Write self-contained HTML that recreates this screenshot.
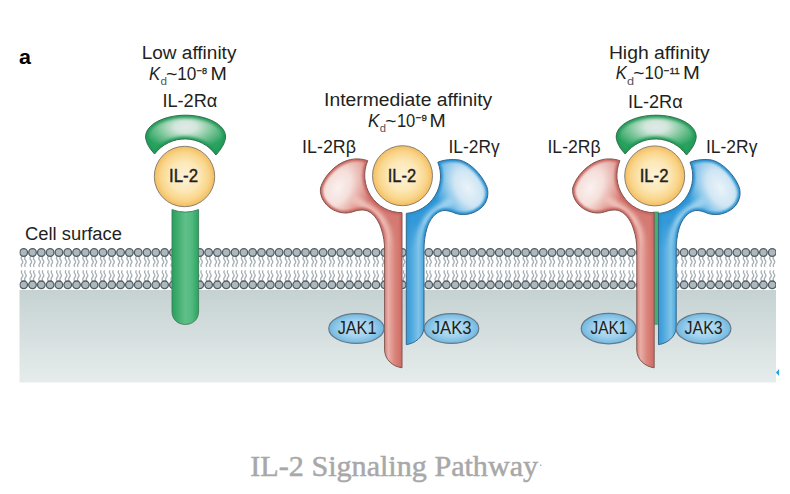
<!DOCTYPE html>
<html><head><meta charset="utf-8">
<style>
html,body{margin:0;padding:0;background:#fff;}
body{width:790px;height:494px;overflow:hidden;position:relative;font-family:"Liberation Sans",sans-serif;}
svg{position:absolute;left:0;top:0;display:block}
</style></head><body>
<svg width="790" height="494" viewBox="0 0 790 494">
<defs>
<linearGradient id="cyto" x1="0" y1="0" x2="0" y2="1">
<stop offset="0" stop-color="#c6d2d2"/><stop offset="1" stop-color="#e6ecec"/>
</linearGradient>
<radialGradient id="yel" cx="0.5" cy="0.5" r="0.5">
<stop offset="0" stop-color="#fdf3d9"/><stop offset="0.5" stop-color="#fce7b5"/><stop offset="0.8" stop-color="#f9d58a"/><stop offset="1" stop-color="#f3bd60"/>
</radialGradient>
<radialGradient id="grn" cx="0.5" cy="0.35" r="0.6">
<stop offset="0" stop-color="#cfe8d6"/><stop offset="0.55" stop-color="#4fb777"/><stop offset="1" stop-color="#1f9a55"/>
</radialGradient>
<linearGradient id="grnstalk" x1="0" y1="0" x2="1" y2="0">
<stop offset="0" stop-color="#27a05c"/><stop offset="0.5" stop-color="#60bf89"/><stop offset="0.75" stop-color="#52b97e"/><stop offset="1" stop-color="#2aa25f"/>
</linearGradient>
<radialGradient id="redh" cx="0.35" cy="0.45" r="0.6">
<stop offset="0" stop-color="#f9e6e2"/><stop offset="0.6" stop-color="#dd8a82"/><stop offset="1" stop-color="#c9625c"/>
</radialGradient>
<radialGradient id="bluh" cx="0.65" cy="0.45" r="0.6">
<stop offset="0" stop-color="#e3f1fa"/><stop offset="0.6" stop-color="#5db1e0"/><stop offset="1" stop-color="#1d8ccf"/>
</radialGradient>
<linearGradient id="redstalk" x1="384" y1="0" x2="402" y2="0" gradientUnits="userSpaceOnUse">
<stop offset="0" stop-color="#d67f77"/><stop offset="0.25" stop-color="#e9aea6"/><stop offset="0.6" stop-color="#da857d"/><stop offset="1" stop-color="#cd6a63"/>
</linearGradient>
<linearGradient id="blustalk" x1="406" y1="0" x2="424.5" y2="0" gradientUnits="userSpaceOnUse">
<stop offset="0" stop-color="#3497d5"/><stop offset="0.3" stop-color="#4fa9de"/><stop offset="0.68" stop-color="#7fc3e9"/><stop offset="0.9" stop-color="#55aee0"/><stop offset="1" stop-color="#3598d5"/>
</linearGradient>
<radialGradient id="jak" cx="0.5" cy="0.5" r="0.55">
<stop offset="0" stop-color="#c1e2f4"/><stop offset="0.5" stop-color="#a2d2ed"/><stop offset="1" stop-color="#66b2df"/>
</radialGradient>

<radialGradient id="caprad" gradientUnits="userSpaceOnUse" cx="0" cy="0" r="44" gradientTransform="translate(185.5,127) scale(1,0.52)">
<stop offset="0" stop-color="#e1e9e8"/><stop offset="0.25" stop-color="#d3e6dc"/><stop offset="0.6" stop-color="#7fc79c"/><stop offset="1" stop-color="#2aa25f"/>
</radialGradient>
<filter id="b12" x="-30%" y="-30%" width="160%" height="160%"><feGaussianBlur stdDeviation="1.3"/></filter>
<filter id="b15" x="-30%" y="-30%" width="160%" height="160%"><feGaussianBlur stdDeviation="1.6"/></filter>
<filter id="b2" x="-30%" y="-30%" width="160%" height="160%"><feGaussianBlur stdDeviation="2.2"/></filter>
<radialGradient id="redrad" gradientUnits="userSpaceOnUse" cx="0" cy="0" r="52" gradientTransform="translate(338,188) rotate(-62) scale(1,0.62)">
<stop offset="0" stop-color="#faf1ef"/><stop offset="0.35" stop-color="#f5dfdb"/><stop offset="0.7" stop-color="#e4a69e"/><stop offset="1" stop-color="#d47a73"/>
</radialGradient>
<radialGradient id="blurad" gradientUnits="userSpaceOnUse" cx="0" cy="0" r="54" gradientTransform="translate(468,188) rotate(62) scale(1,0.62)">
<stop offset="0" stop-color="#eaf3f9"/><stop offset="0.35" stop-color="#d0e6f4"/><stop offset="0.7" stop-color="#74bce6"/><stop offset="1" stop-color="#3399d8"/>
</radialGradient>
<filter id="b5" x="-30%" y="-30%" width="160%" height="160%"><feGaussianBlur stdDeviation="4.5"/></filter>
<filter id="b3" x="-30%" y="-30%" width="160%" height="160%"><feGaussianBlur stdDeviation="3.2"/></filter>
<path id="cap" d="M154.6 154 C149.5 148.5 146 143 145.6 137.1 C145.5 124 165 115.2 185.5 115.2 C206 115.2 225.7 124 225.6 137.1 C225.2 143 221 149.5 215.9 155 A38 38 0 0 0 154.6 154 Z"/>
<clipPath id="capclip"><use href="#cap"/></clipPath>
<g id="capg">
 <g clip-path="url(#capclip)">
  <use href="#cap" fill="url(#caprad)"/>
  <use href="#cap" fill="none" stroke="#1f9a55" stroke-width="5" filter="url(#b15)"/>
 </g>
 <use href="#cap" fill="none" stroke="#356e50" stroke-width="1"/>
</g>
<path id="beta" d="M367.7 160.7 C360 158 352 158.5 345.4 161.1 C335 165 324 176 320.5 188 C319.5 197 325 204.5 331 208.5 C338 213 346 214 352 212 C357 210.3 361 209.5 365 210.2 C372 211.5 378 219 381 228 C383.8 236 384.6 243 384.6 250 V350 C384.9 360 393 366.5 402 367.8 V212.7 A37.3 37.3 0 0 1 367.7 160.7 Z"/>
<clipPath id="betaclip"><use href="#beta"/></clipPath>
<g id="betag">
 <g clip-path="url(#betaclip)">
  <use href="#beta" fill="url(#redrad)"/>
  <path d="M340 188 C352 201 370 205 381 219 C388 230 389.5 243 389.5 262" fill="none" stroke="#efc0b9" stroke-width="7.5" stroke-linecap="round" filter="url(#b2)" style="mix-blend-mode:lighten"/>
  <use href="#beta" fill="none" stroke="#cb645d" stroke-width="4.5" filter="url(#b12)"/>
  <rect x="380" y="215" width="24" height="160" fill="url(#redstalk)" mask="url(#stalkfade)"/>
 </g>
 <use href="#beta" fill="none" stroke="#7f5652" stroke-width="1"/>
</g>
<path id="gamma" d="M437.8 162.2 C444 159.5 452 159 459.6 160 C471 163 482 175 486.8 186.7 C489.5 194 487 203 481 208 C474 214 464 216 456 213.5 C451 211.5 447 210 442.9 210.6 C435 212 429.5 220 427 228 C424.6 236 424 243 424 250 V328 C423.3 337 415 343.5 406.3 344.6 V213.4 A37.3 37.3 0 0 0 437.8 162.2 Z"/>
<clipPath id="gammaclip"><use href="#gamma"/></clipPath>
<g id="gammag">
 <g clip-path="url(#gammaclip)">
  <use href="#gamma" fill="url(#blurad)"/>
  <path d="M467 189 C455 202 438 205 428 219 C421 230 419.5 243 419.5 262" fill="none" stroke="#9dd1ef" stroke-width="8" stroke-linecap="round" filter="url(#b2)" style="mix-blend-mode:lighten"/>
  <use href="#gamma" fill="none" stroke="#2792d3" stroke-width="4.5" filter="url(#b12)"/>
  <rect x="404" y="215" width="24" height="140" fill="url(#blustalk)" mask="url(#stalkfade)"/>
 </g>
 <use href="#gamma" fill="none" stroke="#35678c" stroke-width="1"/>
</g>
<linearGradient id="fadeg" x1="0" y1="0" x2="0" y2="1" gradientUnits="userSpaceOnUse" >
<stop offset="0" stop-color="#000"/><stop offset="1" stop-color="#fff"/>
</linearGradient>
<mask id="stalkfade" maskUnits="userSpaceOnUse" x="370" y="200" width="70" height="180">
<linearGradient id="fg2" x1="0" y1="222" x2="0" y2="250" gradientUnits="userSpaceOnUse"><stop offset="0" stop-color="#000"/><stop offset="1" stop-color="#fff"/></linearGradient>
<rect x="370" y="200" width="70" height="180" fill="url(#fg2)"/>
</mask>
<clipPath id="memclip"><rect x="19.5" y="240" width="756.5" height="150"/></clipPath>
</defs>

<!-- cytoplasm -->
<rect x="19.5" y="290" width="756.5" height="92.5" fill="url(#cyto)"/>

<!-- membrane -->
<g clip-path="url(#memclip)">
<path d="M22.00 256.30 q-1.6 1.85 0 3.7 q1.6 1.85 0 3.7 q-1.3 1.6 0 3.2 M22.00 281.00 q-1.6 -1.85 0 -3.7 q1.6 -1.85 0 -3.7 q-1.3 -1.6 0 -3.2 M25.40 256.30 q-1.6 1.85 0 3.7 q1.6 1.85 0 3.7 q-1.3 1.6 0 3.2 M25.40 281.00 q-1.6 -1.85 0 -3.7 q1.6 -1.85 0 -3.7 q-1.3 -1.6 0 -3.2 M30.81 256.30 q-1.6 1.85 0 3.7 q1.6 1.85 0 3.7 q-1.3 1.6 0 3.2 M30.81 281.00 q-1.6 -1.85 0 -3.7 q1.6 -1.85 0 -3.7 q-1.3 -1.6 0 -3.2 M34.21 256.30 q-1.6 1.85 0 3.7 q1.6 1.85 0 3.7 q-1.3 1.6 0 3.2 M34.21 281.00 q-1.6 -1.85 0 -3.7 q1.6 -1.85 0 -3.7 q-1.3 -1.6 0 -3.2 M39.61 256.30 q-1.6 1.85 0 3.7 q1.6 1.85 0 3.7 q-1.3 1.6 0 3.2 M39.61 281.00 q-1.6 -1.85 0 -3.7 q1.6 -1.85 0 -3.7 q-1.3 -1.6 0 -3.2 M43.01 256.30 q-1.6 1.85 0 3.7 q1.6 1.85 0 3.7 q-1.3 1.6 0 3.2 M43.01 281.00 q-1.6 -1.85 0 -3.7 q1.6 -1.85 0 -3.7 q-1.3 -1.6 0 -3.2 M48.42 256.30 q-1.6 1.85 0 3.7 q1.6 1.85 0 3.7 q-1.3 1.6 0 3.2 M48.42 281.00 q-1.6 -1.85 0 -3.7 q1.6 -1.85 0 -3.7 q-1.3 -1.6 0 -3.2 M51.82 256.30 q-1.6 1.85 0 3.7 q1.6 1.85 0 3.7 q-1.3 1.6 0 3.2 M51.82 281.00 q-1.6 -1.85 0 -3.7 q1.6 -1.85 0 -3.7 q-1.3 -1.6 0 -3.2 M57.22 256.30 q-1.6 1.85 0 3.7 q1.6 1.85 0 3.7 q-1.3 1.6 0 3.2 M57.22 281.00 q-1.6 -1.85 0 -3.7 q1.6 -1.85 0 -3.7 q-1.3 -1.6 0 -3.2 M60.62 256.30 q-1.6 1.85 0 3.7 q1.6 1.85 0 3.7 q-1.3 1.6 0 3.2 M60.62 281.00 q-1.6 -1.85 0 -3.7 q1.6 -1.85 0 -3.7 q-1.3 -1.6 0 -3.2 M66.03 256.30 q-1.6 1.85 0 3.7 q1.6 1.85 0 3.7 q-1.3 1.6 0 3.2 M66.03 281.00 q-1.6 -1.85 0 -3.7 q1.6 -1.85 0 -3.7 q-1.3 -1.6 0 -3.2 M69.43 256.30 q-1.6 1.85 0 3.7 q1.6 1.85 0 3.7 q-1.3 1.6 0 3.2 M69.43 281.00 q-1.6 -1.85 0 -3.7 q1.6 -1.85 0 -3.7 q-1.3 -1.6 0 -3.2 M74.84 256.30 q-1.6 1.85 0 3.7 q1.6 1.85 0 3.7 q-1.3 1.6 0 3.2 M74.84 281.00 q-1.6 -1.85 0 -3.7 q1.6 -1.85 0 -3.7 q-1.3 -1.6 0 -3.2 M78.24 256.30 q-1.6 1.85 0 3.7 q1.6 1.85 0 3.7 q-1.3 1.6 0 3.2 M78.24 281.00 q-1.6 -1.85 0 -3.7 q1.6 -1.85 0 -3.7 q-1.3 -1.6 0 -3.2 M83.64 256.30 q-1.6 1.85 0 3.7 q1.6 1.85 0 3.7 q-1.3 1.6 0 3.2 M83.64 281.00 q-1.6 -1.85 0 -3.7 q1.6 -1.85 0 -3.7 q-1.3 -1.6 0 -3.2 M87.04 256.30 q-1.6 1.85 0 3.7 q1.6 1.85 0 3.7 q-1.3 1.6 0 3.2 M87.04 281.00 q-1.6 -1.85 0 -3.7 q1.6 -1.85 0 -3.7 q-1.3 -1.6 0 -3.2 M92.45 256.30 q-1.6 1.85 0 3.7 q1.6 1.85 0 3.7 q-1.3 1.6 0 3.2 M92.45 281.00 q-1.6 -1.85 0 -3.7 q1.6 -1.85 0 -3.7 q-1.3 -1.6 0 -3.2 M95.85 256.30 q-1.6 1.85 0 3.7 q1.6 1.85 0 3.7 q-1.3 1.6 0 3.2 M95.85 281.00 q-1.6 -1.85 0 -3.7 q1.6 -1.85 0 -3.7 q-1.3 -1.6 0 -3.2 M101.25 256.30 q-1.6 1.85 0 3.7 q1.6 1.85 0 3.7 q-1.3 1.6 0 3.2 M101.25 281.00 q-1.6 -1.85 0 -3.7 q1.6 -1.85 0 -3.7 q-1.3 -1.6 0 -3.2 M104.65 256.30 q-1.6 1.85 0 3.7 q1.6 1.85 0 3.7 q-1.3 1.6 0 3.2 M104.65 281.00 q-1.6 -1.85 0 -3.7 q1.6 -1.85 0 -3.7 q-1.3 -1.6 0 -3.2 M110.06 256.30 q-1.6 1.85 0 3.7 q1.6 1.85 0 3.7 q-1.3 1.6 0 3.2 M110.06 281.00 q-1.6 -1.85 0 -3.7 q1.6 -1.85 0 -3.7 q-1.3 -1.6 0 -3.2 M113.46 256.30 q-1.6 1.85 0 3.7 q1.6 1.85 0 3.7 q-1.3 1.6 0 3.2 M113.46 281.00 q-1.6 -1.85 0 -3.7 q1.6 -1.85 0 -3.7 q-1.3 -1.6 0 -3.2 M118.87 256.30 q-1.6 1.85 0 3.7 q1.6 1.85 0 3.7 q-1.3 1.6 0 3.2 M118.87 281.00 q-1.6 -1.85 0 -3.7 q1.6 -1.85 0 -3.7 q-1.3 -1.6 0 -3.2 M122.27 256.30 q-1.6 1.85 0 3.7 q1.6 1.85 0 3.7 q-1.3 1.6 0 3.2 M122.27 281.00 q-1.6 -1.85 0 -3.7 q1.6 -1.85 0 -3.7 q-1.3 -1.6 0 -3.2 M127.67 256.30 q-1.6 1.85 0 3.7 q1.6 1.85 0 3.7 q-1.3 1.6 0 3.2 M127.67 281.00 q-1.6 -1.85 0 -3.7 q1.6 -1.85 0 -3.7 q-1.3 -1.6 0 -3.2 M131.07 256.30 q-1.6 1.85 0 3.7 q1.6 1.85 0 3.7 q-1.3 1.6 0 3.2 M131.07 281.00 q-1.6 -1.85 0 -3.7 q1.6 -1.85 0 -3.7 q-1.3 -1.6 0 -3.2 M136.48 256.30 q-1.6 1.85 0 3.7 q1.6 1.85 0 3.7 q-1.3 1.6 0 3.2 M136.48 281.00 q-1.6 -1.85 0 -3.7 q1.6 -1.85 0 -3.7 q-1.3 -1.6 0 -3.2 M139.88 256.30 q-1.6 1.85 0 3.7 q1.6 1.85 0 3.7 q-1.3 1.6 0 3.2 M139.88 281.00 q-1.6 -1.85 0 -3.7 q1.6 -1.85 0 -3.7 q-1.3 -1.6 0 -3.2 M145.28 256.30 q-1.6 1.85 0 3.7 q1.6 1.85 0 3.7 q-1.3 1.6 0 3.2 M145.28 281.00 q-1.6 -1.85 0 -3.7 q1.6 -1.85 0 -3.7 q-1.3 -1.6 0 -3.2 M148.68 256.30 q-1.6 1.85 0 3.7 q1.6 1.85 0 3.7 q-1.3 1.6 0 3.2 M148.68 281.00 q-1.6 -1.85 0 -3.7 q1.6 -1.85 0 -3.7 q-1.3 -1.6 0 -3.2 M154.09 256.30 q-1.6 1.85 0 3.7 q1.6 1.85 0 3.7 q-1.3 1.6 0 3.2 M154.09 281.00 q-1.6 -1.85 0 -3.7 q1.6 -1.85 0 -3.7 q-1.3 -1.6 0 -3.2 M157.49 256.30 q-1.6 1.85 0 3.7 q1.6 1.85 0 3.7 q-1.3 1.6 0 3.2 M157.49 281.00 q-1.6 -1.85 0 -3.7 q1.6 -1.85 0 -3.7 q-1.3 -1.6 0 -3.2 M162.90 256.30 q-1.6 1.85 0 3.7 q1.6 1.85 0 3.7 q-1.3 1.6 0 3.2 M162.90 281.00 q-1.6 -1.85 0 -3.7 q1.6 -1.85 0 -3.7 q-1.3 -1.6 0 -3.2 M166.30 256.30 q-1.6 1.85 0 3.7 q1.6 1.85 0 3.7 q-1.3 1.6 0 3.2 M166.30 281.00 q-1.6 -1.85 0 -3.7 q1.6 -1.85 0 -3.7 q-1.3 -1.6 0 -3.2 M171.70 256.30 q-1.6 1.85 0 3.7 q1.6 1.85 0 3.7 q-1.3 1.6 0 3.2 M171.70 281.00 q-1.6 -1.85 0 -3.7 q1.6 -1.85 0 -3.7 q-1.3 -1.6 0 -3.2 M175.10 256.30 q-1.6 1.85 0 3.7 q1.6 1.85 0 3.7 q-1.3 1.6 0 3.2 M175.10 281.00 q-1.6 -1.85 0 -3.7 q1.6 -1.85 0 -3.7 q-1.3 -1.6 0 -3.2 M180.51 256.30 q-1.6 1.85 0 3.7 q1.6 1.85 0 3.7 q-1.3 1.6 0 3.2 M180.51 281.00 q-1.6 -1.85 0 -3.7 q1.6 -1.85 0 -3.7 q-1.3 -1.6 0 -3.2 M183.91 256.30 q-1.6 1.85 0 3.7 q1.6 1.85 0 3.7 q-1.3 1.6 0 3.2 M183.91 281.00 q-1.6 -1.85 0 -3.7 q1.6 -1.85 0 -3.7 q-1.3 -1.6 0 -3.2 M189.31 256.30 q-1.6 1.85 0 3.7 q1.6 1.85 0 3.7 q-1.3 1.6 0 3.2 M189.31 281.00 q-1.6 -1.85 0 -3.7 q1.6 -1.85 0 -3.7 q-1.3 -1.6 0 -3.2 M192.71 256.30 q-1.6 1.85 0 3.7 q1.6 1.85 0 3.7 q-1.3 1.6 0 3.2 M192.71 281.00 q-1.6 -1.85 0 -3.7 q1.6 -1.85 0 -3.7 q-1.3 -1.6 0 -3.2 M198.12 256.30 q-1.6 1.85 0 3.7 q1.6 1.85 0 3.7 q-1.3 1.6 0 3.2 M198.12 281.00 q-1.6 -1.85 0 -3.7 q1.6 -1.85 0 -3.7 q-1.3 -1.6 0 -3.2 M201.52 256.30 q-1.6 1.85 0 3.7 q1.6 1.85 0 3.7 q-1.3 1.6 0 3.2 M201.52 281.00 q-1.6 -1.85 0 -3.7 q1.6 -1.85 0 -3.7 q-1.3 -1.6 0 -3.2 M206.93 256.30 q-1.6 1.85 0 3.7 q1.6 1.85 0 3.7 q-1.3 1.6 0 3.2 M206.93 281.00 q-1.6 -1.85 0 -3.7 q1.6 -1.85 0 -3.7 q-1.3 -1.6 0 -3.2 M210.33 256.30 q-1.6 1.85 0 3.7 q1.6 1.85 0 3.7 q-1.3 1.6 0 3.2 M210.33 281.00 q-1.6 -1.85 0 -3.7 q1.6 -1.85 0 -3.7 q-1.3 -1.6 0 -3.2 M215.73 256.30 q-1.6 1.85 0 3.7 q1.6 1.85 0 3.7 q-1.3 1.6 0 3.2 M215.73 281.00 q-1.6 -1.85 0 -3.7 q1.6 -1.85 0 -3.7 q-1.3 -1.6 0 -3.2 M219.13 256.30 q-1.6 1.85 0 3.7 q1.6 1.85 0 3.7 q-1.3 1.6 0 3.2 M219.13 281.00 q-1.6 -1.85 0 -3.7 q1.6 -1.85 0 -3.7 q-1.3 -1.6 0 -3.2 M224.54 256.30 q-1.6 1.85 0 3.7 q1.6 1.85 0 3.7 q-1.3 1.6 0 3.2 M224.54 281.00 q-1.6 -1.85 0 -3.7 q1.6 -1.85 0 -3.7 q-1.3 -1.6 0 -3.2 M227.94 256.30 q-1.6 1.85 0 3.7 q1.6 1.85 0 3.7 q-1.3 1.6 0 3.2 M227.94 281.00 q-1.6 -1.85 0 -3.7 q1.6 -1.85 0 -3.7 q-1.3 -1.6 0 -3.2 M233.34 256.30 q-1.6 1.85 0 3.7 q1.6 1.85 0 3.7 q-1.3 1.6 0 3.2 M233.34 281.00 q-1.6 -1.85 0 -3.7 q1.6 -1.85 0 -3.7 q-1.3 -1.6 0 -3.2 M236.74 256.30 q-1.6 1.85 0 3.7 q1.6 1.85 0 3.7 q-1.3 1.6 0 3.2 M236.74 281.00 q-1.6 -1.85 0 -3.7 q1.6 -1.85 0 -3.7 q-1.3 -1.6 0 -3.2 M242.15 256.30 q-1.6 1.85 0 3.7 q1.6 1.85 0 3.7 q-1.3 1.6 0 3.2 M242.15 281.00 q-1.6 -1.85 0 -3.7 q1.6 -1.85 0 -3.7 q-1.3 -1.6 0 -3.2 M245.55 256.30 q-1.6 1.85 0 3.7 q1.6 1.85 0 3.7 q-1.3 1.6 0 3.2 M245.55 281.00 q-1.6 -1.85 0 -3.7 q1.6 -1.85 0 -3.7 q-1.3 -1.6 0 -3.2 M250.96 256.30 q-1.6 1.85 0 3.7 q1.6 1.85 0 3.7 q-1.3 1.6 0 3.2 M250.96 281.00 q-1.6 -1.85 0 -3.7 q1.6 -1.85 0 -3.7 q-1.3 -1.6 0 -3.2 M254.36 256.30 q-1.6 1.85 0 3.7 q1.6 1.85 0 3.7 q-1.3 1.6 0 3.2 M254.36 281.00 q-1.6 -1.85 0 -3.7 q1.6 -1.85 0 -3.7 q-1.3 -1.6 0 -3.2 M259.76 256.30 q-1.6 1.85 0 3.7 q1.6 1.85 0 3.7 q-1.3 1.6 0 3.2 M259.76 281.00 q-1.6 -1.85 0 -3.7 q1.6 -1.85 0 -3.7 q-1.3 -1.6 0 -3.2 M263.16 256.30 q-1.6 1.85 0 3.7 q1.6 1.85 0 3.7 q-1.3 1.6 0 3.2 M263.16 281.00 q-1.6 -1.85 0 -3.7 q1.6 -1.85 0 -3.7 q-1.3 -1.6 0 -3.2 M268.57 256.30 q-1.6 1.85 0 3.7 q1.6 1.85 0 3.7 q-1.3 1.6 0 3.2 M268.57 281.00 q-1.6 -1.85 0 -3.7 q1.6 -1.85 0 -3.7 q-1.3 -1.6 0 -3.2 M271.97 256.30 q-1.6 1.85 0 3.7 q1.6 1.85 0 3.7 q-1.3 1.6 0 3.2 M271.97 281.00 q-1.6 -1.85 0 -3.7 q1.6 -1.85 0 -3.7 q-1.3 -1.6 0 -3.2 M277.37 256.30 q-1.6 1.85 0 3.7 q1.6 1.85 0 3.7 q-1.3 1.6 0 3.2 M277.37 281.00 q-1.6 -1.85 0 -3.7 q1.6 -1.85 0 -3.7 q-1.3 -1.6 0 -3.2 M280.77 256.30 q-1.6 1.85 0 3.7 q1.6 1.85 0 3.7 q-1.3 1.6 0 3.2 M280.77 281.00 q-1.6 -1.85 0 -3.7 q1.6 -1.85 0 -3.7 q-1.3 -1.6 0 -3.2 M286.18 256.30 q-1.6 1.85 0 3.7 q1.6 1.85 0 3.7 q-1.3 1.6 0 3.2 M286.18 281.00 q-1.6 -1.85 0 -3.7 q1.6 -1.85 0 -3.7 q-1.3 -1.6 0 -3.2 M289.58 256.30 q-1.6 1.85 0 3.7 q1.6 1.85 0 3.7 q-1.3 1.6 0 3.2 M289.58 281.00 q-1.6 -1.85 0 -3.7 q1.6 -1.85 0 -3.7 q-1.3 -1.6 0 -3.2 M294.99 256.30 q-1.6 1.85 0 3.7 q1.6 1.85 0 3.7 q-1.3 1.6 0 3.2 M294.99 281.00 q-1.6 -1.85 0 -3.7 q1.6 -1.85 0 -3.7 q-1.3 -1.6 0 -3.2 M298.39 256.30 q-1.6 1.85 0 3.7 q1.6 1.85 0 3.7 q-1.3 1.6 0 3.2 M298.39 281.00 q-1.6 -1.85 0 -3.7 q1.6 -1.85 0 -3.7 q-1.3 -1.6 0 -3.2 M303.79 256.30 q-1.6 1.85 0 3.7 q1.6 1.85 0 3.7 q-1.3 1.6 0 3.2 M303.79 281.00 q-1.6 -1.85 0 -3.7 q1.6 -1.85 0 -3.7 q-1.3 -1.6 0 -3.2 M307.19 256.30 q-1.6 1.85 0 3.7 q1.6 1.85 0 3.7 q-1.3 1.6 0 3.2 M307.19 281.00 q-1.6 -1.85 0 -3.7 q1.6 -1.85 0 -3.7 q-1.3 -1.6 0 -3.2 M312.60 256.30 q-1.6 1.85 0 3.7 q1.6 1.85 0 3.7 q-1.3 1.6 0 3.2 M312.60 281.00 q-1.6 -1.85 0 -3.7 q1.6 -1.85 0 -3.7 q-1.3 -1.6 0 -3.2 M316.00 256.30 q-1.6 1.85 0 3.7 q1.6 1.85 0 3.7 q-1.3 1.6 0 3.2 M316.00 281.00 q-1.6 -1.85 0 -3.7 q1.6 -1.85 0 -3.7 q-1.3 -1.6 0 -3.2 M321.40 256.30 q-1.6 1.85 0 3.7 q1.6 1.85 0 3.7 q-1.3 1.6 0 3.2 M321.40 281.00 q-1.6 -1.85 0 -3.7 q1.6 -1.85 0 -3.7 q-1.3 -1.6 0 -3.2 M324.80 256.30 q-1.6 1.85 0 3.7 q1.6 1.85 0 3.7 q-1.3 1.6 0 3.2 M324.80 281.00 q-1.6 -1.85 0 -3.7 q1.6 -1.85 0 -3.7 q-1.3 -1.6 0 -3.2 M330.21 256.30 q-1.6 1.85 0 3.7 q1.6 1.85 0 3.7 q-1.3 1.6 0 3.2 M330.21 281.00 q-1.6 -1.85 0 -3.7 q1.6 -1.85 0 -3.7 q-1.3 -1.6 0 -3.2 M333.61 256.30 q-1.6 1.85 0 3.7 q1.6 1.85 0 3.7 q-1.3 1.6 0 3.2 M333.61 281.00 q-1.6 -1.85 0 -3.7 q1.6 -1.85 0 -3.7 q-1.3 -1.6 0 -3.2 M339.02 256.30 q-1.6 1.85 0 3.7 q1.6 1.85 0 3.7 q-1.3 1.6 0 3.2 M339.02 281.00 q-1.6 -1.85 0 -3.7 q1.6 -1.85 0 -3.7 q-1.3 -1.6 0 -3.2 M342.42 256.30 q-1.6 1.85 0 3.7 q1.6 1.85 0 3.7 q-1.3 1.6 0 3.2 M342.42 281.00 q-1.6 -1.85 0 -3.7 q1.6 -1.85 0 -3.7 q-1.3 -1.6 0 -3.2 M347.82 256.30 q-1.6 1.85 0 3.7 q1.6 1.85 0 3.7 q-1.3 1.6 0 3.2 M347.82 281.00 q-1.6 -1.85 0 -3.7 q1.6 -1.85 0 -3.7 q-1.3 -1.6 0 -3.2 M351.22 256.30 q-1.6 1.85 0 3.7 q1.6 1.85 0 3.7 q-1.3 1.6 0 3.2 M351.22 281.00 q-1.6 -1.85 0 -3.7 q1.6 -1.85 0 -3.7 q-1.3 -1.6 0 -3.2 M356.63 256.30 q-1.6 1.85 0 3.7 q1.6 1.85 0 3.7 q-1.3 1.6 0 3.2 M356.63 281.00 q-1.6 -1.85 0 -3.7 q1.6 -1.85 0 -3.7 q-1.3 -1.6 0 -3.2 M360.03 256.30 q-1.6 1.85 0 3.7 q1.6 1.85 0 3.7 q-1.3 1.6 0 3.2 M360.03 281.00 q-1.6 -1.85 0 -3.7 q1.6 -1.85 0 -3.7 q-1.3 -1.6 0 -3.2 M365.43 256.30 q-1.6 1.85 0 3.7 q1.6 1.85 0 3.7 q-1.3 1.6 0 3.2 M365.43 281.00 q-1.6 -1.85 0 -3.7 q1.6 -1.85 0 -3.7 q-1.3 -1.6 0 -3.2 M368.83 256.30 q-1.6 1.85 0 3.7 q1.6 1.85 0 3.7 q-1.3 1.6 0 3.2 M368.83 281.00 q-1.6 -1.85 0 -3.7 q1.6 -1.85 0 -3.7 q-1.3 -1.6 0 -3.2 M374.24 256.30 q-1.6 1.85 0 3.7 q1.6 1.85 0 3.7 q-1.3 1.6 0 3.2 M374.24 281.00 q-1.6 -1.85 0 -3.7 q1.6 -1.85 0 -3.7 q-1.3 -1.6 0 -3.2 M377.64 256.30 q-1.6 1.85 0 3.7 q1.6 1.85 0 3.7 q-1.3 1.6 0 3.2 M377.64 281.00 q-1.6 -1.85 0 -3.7 q1.6 -1.85 0 -3.7 q-1.3 -1.6 0 -3.2 M383.05 256.30 q-1.6 1.85 0 3.7 q1.6 1.85 0 3.7 q-1.3 1.6 0 3.2 M383.05 281.00 q-1.6 -1.85 0 -3.7 q1.6 -1.85 0 -3.7 q-1.3 -1.6 0 -3.2 M386.45 256.30 q-1.6 1.85 0 3.7 q1.6 1.85 0 3.7 q-1.3 1.6 0 3.2 M386.45 281.00 q-1.6 -1.85 0 -3.7 q1.6 -1.85 0 -3.7 q-1.3 -1.6 0 -3.2 M391.85 256.30 q-1.6 1.85 0 3.7 q1.6 1.85 0 3.7 q-1.3 1.6 0 3.2 M391.85 281.00 q-1.6 -1.85 0 -3.7 q1.6 -1.85 0 -3.7 q-1.3 -1.6 0 -3.2 M395.25 256.30 q-1.6 1.85 0 3.7 q1.6 1.85 0 3.7 q-1.3 1.6 0 3.2 M395.25 281.00 q-1.6 -1.85 0 -3.7 q1.6 -1.85 0 -3.7 q-1.3 -1.6 0 -3.2 M400.66 256.30 q-1.6 1.85 0 3.7 q1.6 1.85 0 3.7 q-1.3 1.6 0 3.2 M400.66 281.00 q-1.6 -1.85 0 -3.7 q1.6 -1.85 0 -3.7 q-1.3 -1.6 0 -3.2 M404.06 256.30 q-1.6 1.85 0 3.7 q1.6 1.85 0 3.7 q-1.3 1.6 0 3.2 M404.06 281.00 q-1.6 -1.85 0 -3.7 q1.6 -1.85 0 -3.7 q-1.3 -1.6 0 -3.2 M409.46 256.30 q-1.6 1.85 0 3.7 q1.6 1.85 0 3.7 q-1.3 1.6 0 3.2 M409.46 281.00 q-1.6 -1.85 0 -3.7 q1.6 -1.85 0 -3.7 q-1.3 -1.6 0 -3.2 M412.86 256.30 q-1.6 1.85 0 3.7 q1.6 1.85 0 3.7 q-1.3 1.6 0 3.2 M412.86 281.00 q-1.6 -1.85 0 -3.7 q1.6 -1.85 0 -3.7 q-1.3 -1.6 0 -3.2 M418.27 256.30 q-1.6 1.85 0 3.7 q1.6 1.85 0 3.7 q-1.3 1.6 0 3.2 M418.27 281.00 q-1.6 -1.85 0 -3.7 q1.6 -1.85 0 -3.7 q-1.3 -1.6 0 -3.2 M421.67 256.30 q-1.6 1.85 0 3.7 q1.6 1.85 0 3.7 q-1.3 1.6 0 3.2 M421.67 281.00 q-1.6 -1.85 0 -3.7 q1.6 -1.85 0 -3.7 q-1.3 -1.6 0 -3.2 M427.08 256.30 q-1.6 1.85 0 3.7 q1.6 1.85 0 3.7 q-1.3 1.6 0 3.2 M427.08 281.00 q-1.6 -1.85 0 -3.7 q1.6 -1.85 0 -3.7 q-1.3 -1.6 0 -3.2 M430.48 256.30 q-1.6 1.85 0 3.7 q1.6 1.85 0 3.7 q-1.3 1.6 0 3.2 M430.48 281.00 q-1.6 -1.85 0 -3.7 q1.6 -1.85 0 -3.7 q-1.3 -1.6 0 -3.2 M435.88 256.30 q-1.6 1.85 0 3.7 q1.6 1.85 0 3.7 q-1.3 1.6 0 3.2 M435.88 281.00 q-1.6 -1.85 0 -3.7 q1.6 -1.85 0 -3.7 q-1.3 -1.6 0 -3.2 M439.28 256.30 q-1.6 1.85 0 3.7 q1.6 1.85 0 3.7 q-1.3 1.6 0 3.2 M439.28 281.00 q-1.6 -1.85 0 -3.7 q1.6 -1.85 0 -3.7 q-1.3 -1.6 0 -3.2 M444.69 256.30 q-1.6 1.85 0 3.7 q1.6 1.85 0 3.7 q-1.3 1.6 0 3.2 M444.69 281.00 q-1.6 -1.85 0 -3.7 q1.6 -1.85 0 -3.7 q-1.3 -1.6 0 -3.2 M448.09 256.30 q-1.6 1.85 0 3.7 q1.6 1.85 0 3.7 q-1.3 1.6 0 3.2 M448.09 281.00 q-1.6 -1.85 0 -3.7 q1.6 -1.85 0 -3.7 q-1.3 -1.6 0 -3.2 M453.49 256.30 q-1.6 1.85 0 3.7 q1.6 1.85 0 3.7 q-1.3 1.6 0 3.2 M453.49 281.00 q-1.6 -1.85 0 -3.7 q1.6 -1.85 0 -3.7 q-1.3 -1.6 0 -3.2 M456.89 256.30 q-1.6 1.85 0 3.7 q1.6 1.85 0 3.7 q-1.3 1.6 0 3.2 M456.89 281.00 q-1.6 -1.85 0 -3.7 q1.6 -1.85 0 -3.7 q-1.3 -1.6 0 -3.2 M462.30 256.30 q-1.6 1.85 0 3.7 q1.6 1.85 0 3.7 q-1.3 1.6 0 3.2 M462.30 281.00 q-1.6 -1.85 0 -3.7 q1.6 -1.85 0 -3.7 q-1.3 -1.6 0 -3.2 M465.70 256.30 q-1.6 1.85 0 3.7 q1.6 1.85 0 3.7 q-1.3 1.6 0 3.2 M465.70 281.00 q-1.6 -1.85 0 -3.7 q1.6 -1.85 0 -3.7 q-1.3 -1.6 0 -3.2 M471.11 256.30 q-1.6 1.85 0 3.7 q1.6 1.85 0 3.7 q-1.3 1.6 0 3.2 M471.11 281.00 q-1.6 -1.85 0 -3.7 q1.6 -1.85 0 -3.7 q-1.3 -1.6 0 -3.2 M474.51 256.30 q-1.6 1.85 0 3.7 q1.6 1.85 0 3.7 q-1.3 1.6 0 3.2 M474.51 281.00 q-1.6 -1.85 0 -3.7 q1.6 -1.85 0 -3.7 q-1.3 -1.6 0 -3.2 M479.91 256.30 q-1.6 1.85 0 3.7 q1.6 1.85 0 3.7 q-1.3 1.6 0 3.2 M479.91 281.00 q-1.6 -1.85 0 -3.7 q1.6 -1.85 0 -3.7 q-1.3 -1.6 0 -3.2 M483.31 256.30 q-1.6 1.85 0 3.7 q1.6 1.85 0 3.7 q-1.3 1.6 0 3.2 M483.31 281.00 q-1.6 -1.85 0 -3.7 q1.6 -1.85 0 -3.7 q-1.3 -1.6 0 -3.2 M488.72 256.30 q-1.6 1.85 0 3.7 q1.6 1.85 0 3.7 q-1.3 1.6 0 3.2 M488.72 281.00 q-1.6 -1.85 0 -3.7 q1.6 -1.85 0 -3.7 q-1.3 -1.6 0 -3.2 M492.12 256.30 q-1.6 1.85 0 3.7 q1.6 1.85 0 3.7 q-1.3 1.6 0 3.2 M492.12 281.00 q-1.6 -1.85 0 -3.7 q1.6 -1.85 0 -3.7 q-1.3 -1.6 0 -3.2 M497.52 256.30 q-1.6 1.85 0 3.7 q1.6 1.85 0 3.7 q-1.3 1.6 0 3.2 M497.52 281.00 q-1.6 -1.85 0 -3.7 q1.6 -1.85 0 -3.7 q-1.3 -1.6 0 -3.2 M500.92 256.30 q-1.6 1.85 0 3.7 q1.6 1.85 0 3.7 q-1.3 1.6 0 3.2 M500.92 281.00 q-1.6 -1.85 0 -3.7 q1.6 -1.85 0 -3.7 q-1.3 -1.6 0 -3.2 M506.33 256.30 q-1.6 1.85 0 3.7 q1.6 1.85 0 3.7 q-1.3 1.6 0 3.2 M506.33 281.00 q-1.6 -1.85 0 -3.7 q1.6 -1.85 0 -3.7 q-1.3 -1.6 0 -3.2 M509.73 256.30 q-1.6 1.85 0 3.7 q1.6 1.85 0 3.7 q-1.3 1.6 0 3.2 M509.73 281.00 q-1.6 -1.85 0 -3.7 q1.6 -1.85 0 -3.7 q-1.3 -1.6 0 -3.2 M515.14 256.30 q-1.6 1.85 0 3.7 q1.6 1.85 0 3.7 q-1.3 1.6 0 3.2 M515.14 281.00 q-1.6 -1.85 0 -3.7 q1.6 -1.85 0 -3.7 q-1.3 -1.6 0 -3.2 M518.54 256.30 q-1.6 1.85 0 3.7 q1.6 1.85 0 3.7 q-1.3 1.6 0 3.2 M518.54 281.00 q-1.6 -1.85 0 -3.7 q1.6 -1.85 0 -3.7 q-1.3 -1.6 0 -3.2 M523.94 256.30 q-1.6 1.85 0 3.7 q1.6 1.85 0 3.7 q-1.3 1.6 0 3.2 M523.94 281.00 q-1.6 -1.85 0 -3.7 q1.6 -1.85 0 -3.7 q-1.3 -1.6 0 -3.2 M527.34 256.30 q-1.6 1.85 0 3.7 q1.6 1.85 0 3.7 q-1.3 1.6 0 3.2 M527.34 281.00 q-1.6 -1.85 0 -3.7 q1.6 -1.85 0 -3.7 q-1.3 -1.6 0 -3.2 M532.75 256.30 q-1.6 1.85 0 3.7 q1.6 1.85 0 3.7 q-1.3 1.6 0 3.2 M532.75 281.00 q-1.6 -1.85 0 -3.7 q1.6 -1.85 0 -3.7 q-1.3 -1.6 0 -3.2 M536.15 256.30 q-1.6 1.85 0 3.7 q1.6 1.85 0 3.7 q-1.3 1.6 0 3.2 M536.15 281.00 q-1.6 -1.85 0 -3.7 q1.6 -1.85 0 -3.7 q-1.3 -1.6 0 -3.2 M541.55 256.30 q-1.6 1.85 0 3.7 q1.6 1.85 0 3.7 q-1.3 1.6 0 3.2 M541.55 281.00 q-1.6 -1.85 0 -3.7 q1.6 -1.85 0 -3.7 q-1.3 -1.6 0 -3.2 M544.95 256.30 q-1.6 1.85 0 3.7 q1.6 1.85 0 3.7 q-1.3 1.6 0 3.2 M544.95 281.00 q-1.6 -1.85 0 -3.7 q1.6 -1.85 0 -3.7 q-1.3 -1.6 0 -3.2 M550.36 256.30 q-1.6 1.85 0 3.7 q1.6 1.85 0 3.7 q-1.3 1.6 0 3.2 M550.36 281.00 q-1.6 -1.85 0 -3.7 q1.6 -1.85 0 -3.7 q-1.3 -1.6 0 -3.2 M553.76 256.30 q-1.6 1.85 0 3.7 q1.6 1.85 0 3.7 q-1.3 1.6 0 3.2 M553.76 281.00 q-1.6 -1.85 0 -3.7 q1.6 -1.85 0 -3.7 q-1.3 -1.6 0 -3.2 M559.17 256.30 q-1.6 1.85 0 3.7 q1.6 1.85 0 3.7 q-1.3 1.6 0 3.2 M559.17 281.00 q-1.6 -1.85 0 -3.7 q1.6 -1.85 0 -3.7 q-1.3 -1.6 0 -3.2 M562.57 256.30 q-1.6 1.85 0 3.7 q1.6 1.85 0 3.7 q-1.3 1.6 0 3.2 M562.57 281.00 q-1.6 -1.85 0 -3.7 q1.6 -1.85 0 -3.7 q-1.3 -1.6 0 -3.2 M567.97 256.30 q-1.6 1.85 0 3.7 q1.6 1.85 0 3.7 q-1.3 1.6 0 3.2 M567.97 281.00 q-1.6 -1.85 0 -3.7 q1.6 -1.85 0 -3.7 q-1.3 -1.6 0 -3.2 M571.37 256.30 q-1.6 1.85 0 3.7 q1.6 1.85 0 3.7 q-1.3 1.6 0 3.2 M571.37 281.00 q-1.6 -1.85 0 -3.7 q1.6 -1.85 0 -3.7 q-1.3 -1.6 0 -3.2 M576.78 256.30 q-1.6 1.85 0 3.7 q1.6 1.85 0 3.7 q-1.3 1.6 0 3.2 M576.78 281.00 q-1.6 -1.85 0 -3.7 q1.6 -1.85 0 -3.7 q-1.3 -1.6 0 -3.2 M580.18 256.30 q-1.6 1.85 0 3.7 q1.6 1.85 0 3.7 q-1.3 1.6 0 3.2 M580.18 281.00 q-1.6 -1.85 0 -3.7 q1.6 -1.85 0 -3.7 q-1.3 -1.6 0 -3.2 M585.58 256.30 q-1.6 1.85 0 3.7 q1.6 1.85 0 3.7 q-1.3 1.6 0 3.2 M585.58 281.00 q-1.6 -1.85 0 -3.7 q1.6 -1.85 0 -3.7 q-1.3 -1.6 0 -3.2 M588.98 256.30 q-1.6 1.85 0 3.7 q1.6 1.85 0 3.7 q-1.3 1.6 0 3.2 M588.98 281.00 q-1.6 -1.85 0 -3.7 q1.6 -1.85 0 -3.7 q-1.3 -1.6 0 -3.2 M594.39 256.30 q-1.6 1.85 0 3.7 q1.6 1.85 0 3.7 q-1.3 1.6 0 3.2 M594.39 281.00 q-1.6 -1.85 0 -3.7 q1.6 -1.85 0 -3.7 q-1.3 -1.6 0 -3.2 M597.79 256.30 q-1.6 1.85 0 3.7 q1.6 1.85 0 3.7 q-1.3 1.6 0 3.2 M597.79 281.00 q-1.6 -1.85 0 -3.7 q1.6 -1.85 0 -3.7 q-1.3 -1.6 0 -3.2 M603.20 256.30 q-1.6 1.85 0 3.7 q1.6 1.85 0 3.7 q-1.3 1.6 0 3.2 M603.20 281.00 q-1.6 -1.85 0 -3.7 q1.6 -1.85 0 -3.7 q-1.3 -1.6 0 -3.2 M606.60 256.30 q-1.6 1.85 0 3.7 q1.6 1.85 0 3.7 q-1.3 1.6 0 3.2 M606.60 281.00 q-1.6 -1.85 0 -3.7 q1.6 -1.85 0 -3.7 q-1.3 -1.6 0 -3.2 M612.00 256.30 q-1.6 1.85 0 3.7 q1.6 1.85 0 3.7 q-1.3 1.6 0 3.2 M612.00 281.00 q-1.6 -1.85 0 -3.7 q1.6 -1.85 0 -3.7 q-1.3 -1.6 0 -3.2 M615.40 256.30 q-1.6 1.85 0 3.7 q1.6 1.85 0 3.7 q-1.3 1.6 0 3.2 M615.40 281.00 q-1.6 -1.85 0 -3.7 q1.6 -1.85 0 -3.7 q-1.3 -1.6 0 -3.2 M620.81 256.30 q-1.6 1.85 0 3.7 q1.6 1.85 0 3.7 q-1.3 1.6 0 3.2 M620.81 281.00 q-1.6 -1.85 0 -3.7 q1.6 -1.85 0 -3.7 q-1.3 -1.6 0 -3.2 M624.21 256.30 q-1.6 1.85 0 3.7 q1.6 1.85 0 3.7 q-1.3 1.6 0 3.2 M624.21 281.00 q-1.6 -1.85 0 -3.7 q1.6 -1.85 0 -3.7 q-1.3 -1.6 0 -3.2 M629.61 256.30 q-1.6 1.85 0 3.7 q1.6 1.85 0 3.7 q-1.3 1.6 0 3.2 M629.61 281.00 q-1.6 -1.85 0 -3.7 q1.6 -1.85 0 -3.7 q-1.3 -1.6 0 -3.2 M633.01 256.30 q-1.6 1.85 0 3.7 q1.6 1.85 0 3.7 q-1.3 1.6 0 3.2 M633.01 281.00 q-1.6 -1.85 0 -3.7 q1.6 -1.85 0 -3.7 q-1.3 -1.6 0 -3.2 M638.42 256.30 q-1.6 1.85 0 3.7 q1.6 1.85 0 3.7 q-1.3 1.6 0 3.2 M638.42 281.00 q-1.6 -1.85 0 -3.7 q1.6 -1.85 0 -3.7 q-1.3 -1.6 0 -3.2 M641.82 256.30 q-1.6 1.85 0 3.7 q1.6 1.85 0 3.7 q-1.3 1.6 0 3.2 M641.82 281.00 q-1.6 -1.85 0 -3.7 q1.6 -1.85 0 -3.7 q-1.3 -1.6 0 -3.2 M647.23 256.30 q-1.6 1.85 0 3.7 q1.6 1.85 0 3.7 q-1.3 1.6 0 3.2 M647.23 281.00 q-1.6 -1.85 0 -3.7 q1.6 -1.85 0 -3.7 q-1.3 -1.6 0 -3.2 M650.63 256.30 q-1.6 1.85 0 3.7 q1.6 1.85 0 3.7 q-1.3 1.6 0 3.2 M650.63 281.00 q-1.6 -1.85 0 -3.7 q1.6 -1.85 0 -3.7 q-1.3 -1.6 0 -3.2 M656.03 256.30 q-1.6 1.85 0 3.7 q1.6 1.85 0 3.7 q-1.3 1.6 0 3.2 M656.03 281.00 q-1.6 -1.85 0 -3.7 q1.6 -1.85 0 -3.7 q-1.3 -1.6 0 -3.2 M659.43 256.30 q-1.6 1.85 0 3.7 q1.6 1.85 0 3.7 q-1.3 1.6 0 3.2 M659.43 281.00 q-1.6 -1.85 0 -3.7 q1.6 -1.85 0 -3.7 q-1.3 -1.6 0 -3.2 M664.84 256.30 q-1.6 1.85 0 3.7 q1.6 1.85 0 3.7 q-1.3 1.6 0 3.2 M664.84 281.00 q-1.6 -1.85 0 -3.7 q1.6 -1.85 0 -3.7 q-1.3 -1.6 0 -3.2 M668.24 256.30 q-1.6 1.85 0 3.7 q1.6 1.85 0 3.7 q-1.3 1.6 0 3.2 M668.24 281.00 q-1.6 -1.85 0 -3.7 q1.6 -1.85 0 -3.7 q-1.3 -1.6 0 -3.2 M673.64 256.30 q-1.6 1.85 0 3.7 q1.6 1.85 0 3.7 q-1.3 1.6 0 3.2 M673.64 281.00 q-1.6 -1.85 0 -3.7 q1.6 -1.85 0 -3.7 q-1.3 -1.6 0 -3.2 M677.04 256.30 q-1.6 1.85 0 3.7 q1.6 1.85 0 3.7 q-1.3 1.6 0 3.2 M677.04 281.00 q-1.6 -1.85 0 -3.7 q1.6 -1.85 0 -3.7 q-1.3 -1.6 0 -3.2 M682.45 256.30 q-1.6 1.85 0 3.7 q1.6 1.85 0 3.7 q-1.3 1.6 0 3.2 M682.45 281.00 q-1.6 -1.85 0 -3.7 q1.6 -1.85 0 -3.7 q-1.3 -1.6 0 -3.2 M685.85 256.30 q-1.6 1.85 0 3.7 q1.6 1.85 0 3.7 q-1.3 1.6 0 3.2 M685.85 281.00 q-1.6 -1.85 0 -3.7 q1.6 -1.85 0 -3.7 q-1.3 -1.6 0 -3.2 M691.26 256.30 q-1.6 1.85 0 3.7 q1.6 1.85 0 3.7 q-1.3 1.6 0 3.2 M691.26 281.00 q-1.6 -1.85 0 -3.7 q1.6 -1.85 0 -3.7 q-1.3 -1.6 0 -3.2 M694.66 256.30 q-1.6 1.85 0 3.7 q1.6 1.85 0 3.7 q-1.3 1.6 0 3.2 M694.66 281.00 q-1.6 -1.85 0 -3.7 q1.6 -1.85 0 -3.7 q-1.3 -1.6 0 -3.2 M700.06 256.30 q-1.6 1.85 0 3.7 q1.6 1.85 0 3.7 q-1.3 1.6 0 3.2 M700.06 281.00 q-1.6 -1.85 0 -3.7 q1.6 -1.85 0 -3.7 q-1.3 -1.6 0 -3.2 M703.46 256.30 q-1.6 1.85 0 3.7 q1.6 1.85 0 3.7 q-1.3 1.6 0 3.2 M703.46 281.00 q-1.6 -1.85 0 -3.7 q1.6 -1.85 0 -3.7 q-1.3 -1.6 0 -3.2 M708.87 256.30 q-1.6 1.85 0 3.7 q1.6 1.85 0 3.7 q-1.3 1.6 0 3.2 M708.87 281.00 q-1.6 -1.85 0 -3.7 q1.6 -1.85 0 -3.7 q-1.3 -1.6 0 -3.2 M712.27 256.30 q-1.6 1.85 0 3.7 q1.6 1.85 0 3.7 q-1.3 1.6 0 3.2 M712.27 281.00 q-1.6 -1.85 0 -3.7 q1.6 -1.85 0 -3.7 q-1.3 -1.6 0 -3.2 M717.67 256.30 q-1.6 1.85 0 3.7 q1.6 1.85 0 3.7 q-1.3 1.6 0 3.2 M717.67 281.00 q-1.6 -1.85 0 -3.7 q1.6 -1.85 0 -3.7 q-1.3 -1.6 0 -3.2 M721.07 256.30 q-1.6 1.85 0 3.7 q1.6 1.85 0 3.7 q-1.3 1.6 0 3.2 M721.07 281.00 q-1.6 -1.85 0 -3.7 q1.6 -1.85 0 -3.7 q-1.3 -1.6 0 -3.2 M726.48 256.30 q-1.6 1.85 0 3.7 q1.6 1.85 0 3.7 q-1.3 1.6 0 3.2 M726.48 281.00 q-1.6 -1.85 0 -3.7 q1.6 -1.85 0 -3.7 q-1.3 -1.6 0 -3.2 M729.88 256.30 q-1.6 1.85 0 3.7 q1.6 1.85 0 3.7 q-1.3 1.6 0 3.2 M729.88 281.00 q-1.6 -1.85 0 -3.7 q1.6 -1.85 0 -3.7 q-1.3 -1.6 0 -3.2 M735.29 256.30 q-1.6 1.85 0 3.7 q1.6 1.85 0 3.7 q-1.3 1.6 0 3.2 M735.29 281.00 q-1.6 -1.85 0 -3.7 q1.6 -1.85 0 -3.7 q-1.3 -1.6 0 -3.2 M738.69 256.30 q-1.6 1.85 0 3.7 q1.6 1.85 0 3.7 q-1.3 1.6 0 3.2 M738.69 281.00 q-1.6 -1.85 0 -3.7 q1.6 -1.85 0 -3.7 q-1.3 -1.6 0 -3.2 M744.09 256.30 q-1.6 1.85 0 3.7 q1.6 1.85 0 3.7 q-1.3 1.6 0 3.2 M744.09 281.00 q-1.6 -1.85 0 -3.7 q1.6 -1.85 0 -3.7 q-1.3 -1.6 0 -3.2 M747.49 256.30 q-1.6 1.85 0 3.7 q1.6 1.85 0 3.7 q-1.3 1.6 0 3.2 M747.49 281.00 q-1.6 -1.85 0 -3.7 q1.6 -1.85 0 -3.7 q-1.3 -1.6 0 -3.2 M752.90 256.30 q-1.6 1.85 0 3.7 q1.6 1.85 0 3.7 q-1.3 1.6 0 3.2 M752.90 281.00 q-1.6 -1.85 0 -3.7 q1.6 -1.85 0 -3.7 q-1.3 -1.6 0 -3.2 M756.30 256.30 q-1.6 1.85 0 3.7 q1.6 1.85 0 3.7 q-1.3 1.6 0 3.2 M756.30 281.00 q-1.6 -1.85 0 -3.7 q1.6 -1.85 0 -3.7 q-1.3 -1.6 0 -3.2 M761.70 256.30 q-1.6 1.85 0 3.7 q1.6 1.85 0 3.7 q-1.3 1.6 0 3.2 M761.70 281.00 q-1.6 -1.85 0 -3.7 q1.6 -1.85 0 -3.7 q-1.3 -1.6 0 -3.2 M765.10 256.30 q-1.6 1.85 0 3.7 q1.6 1.85 0 3.7 q-1.3 1.6 0 3.2 M765.10 281.00 q-1.6 -1.85 0 -3.7 q1.6 -1.85 0 -3.7 q-1.3 -1.6 0 -3.2 M770.51 256.30 q-1.6 1.85 0 3.7 q1.6 1.85 0 3.7 q-1.3 1.6 0 3.2 M770.51 281.00 q-1.6 -1.85 0 -3.7 q1.6 -1.85 0 -3.7 q-1.3 -1.6 0 -3.2 M773.91 256.30 q-1.6 1.85 0 3.7 q1.6 1.85 0 3.7 q-1.3 1.6 0 3.2 M773.91 281.00 q-1.6 -1.85 0 -3.7 q1.6 -1.85 0 -3.7 q-1.3 -1.6 0 -3.2" fill="none" stroke="#a6afb4" stroke-width="1.3"/>
<g fill="#adb9bf" stroke="#525d63" stroke-width="1.3">
<circle cx="23.70" cy="252.5" r="3.8"/>
<circle cx="23.70" cy="284.8" r="3.8"/>
<circle cx="32.51" cy="252.5" r="3.8"/>
<circle cx="32.51" cy="284.8" r="3.8"/>
<circle cx="41.31" cy="252.5" r="3.8"/>
<circle cx="41.31" cy="284.8" r="3.8"/>
<circle cx="50.12" cy="252.5" r="3.8"/>
<circle cx="50.12" cy="284.8" r="3.8"/>
<circle cx="58.92" cy="252.5" r="3.8"/>
<circle cx="58.92" cy="284.8" r="3.8"/>
<circle cx="67.73" cy="252.5" r="3.8"/>
<circle cx="67.73" cy="284.8" r="3.8"/>
<circle cx="76.54" cy="252.5" r="3.8"/>
<circle cx="76.54" cy="284.8" r="3.8"/>
<circle cx="85.34" cy="252.5" r="3.8"/>
<circle cx="85.34" cy="284.8" r="3.8"/>
<circle cx="94.15" cy="252.5" r="3.8"/>
<circle cx="94.15" cy="284.8" r="3.8"/>
<circle cx="102.95" cy="252.5" r="3.8"/>
<circle cx="102.95" cy="284.8" r="3.8"/>
<circle cx="111.76" cy="252.5" r="3.8"/>
<circle cx="111.76" cy="284.8" r="3.8"/>
<circle cx="120.57" cy="252.5" r="3.8"/>
<circle cx="120.57" cy="284.8" r="3.8"/>
<circle cx="129.37" cy="252.5" r="3.8"/>
<circle cx="129.37" cy="284.8" r="3.8"/>
<circle cx="138.18" cy="252.5" r="3.8"/>
<circle cx="138.18" cy="284.8" r="3.8"/>
<circle cx="146.98" cy="252.5" r="3.8"/>
<circle cx="146.98" cy="284.8" r="3.8"/>
<circle cx="155.79" cy="252.5" r="3.8"/>
<circle cx="155.79" cy="284.8" r="3.8"/>
<circle cx="164.60" cy="252.5" r="3.8"/>
<circle cx="164.60" cy="284.8" r="3.8"/>
<circle cx="173.40" cy="252.5" r="3.8"/>
<circle cx="173.40" cy="284.8" r="3.8"/>
<circle cx="182.21" cy="252.5" r="3.8"/>
<circle cx="182.21" cy="284.8" r="3.8"/>
<circle cx="191.01" cy="252.5" r="3.8"/>
<circle cx="191.01" cy="284.8" r="3.8"/>
<circle cx="199.82" cy="252.5" r="3.8"/>
<circle cx="199.82" cy="284.8" r="3.8"/>
<circle cx="208.63" cy="252.5" r="3.8"/>
<circle cx="208.63" cy="284.8" r="3.8"/>
<circle cx="217.43" cy="252.5" r="3.8"/>
<circle cx="217.43" cy="284.8" r="3.8"/>
<circle cx="226.24" cy="252.5" r="3.8"/>
<circle cx="226.24" cy="284.8" r="3.8"/>
<circle cx="235.04" cy="252.5" r="3.8"/>
<circle cx="235.04" cy="284.8" r="3.8"/>
<circle cx="243.85" cy="252.5" r="3.8"/>
<circle cx="243.85" cy="284.8" r="3.8"/>
<circle cx="252.66" cy="252.5" r="3.8"/>
<circle cx="252.66" cy="284.8" r="3.8"/>
<circle cx="261.46" cy="252.5" r="3.8"/>
<circle cx="261.46" cy="284.8" r="3.8"/>
<circle cx="270.27" cy="252.5" r="3.8"/>
<circle cx="270.27" cy="284.8" r="3.8"/>
<circle cx="279.07" cy="252.5" r="3.8"/>
<circle cx="279.07" cy="284.8" r="3.8"/>
<circle cx="287.88" cy="252.5" r="3.8"/>
<circle cx="287.88" cy="284.8" r="3.8"/>
<circle cx="296.69" cy="252.5" r="3.8"/>
<circle cx="296.69" cy="284.8" r="3.8"/>
<circle cx="305.49" cy="252.5" r="3.8"/>
<circle cx="305.49" cy="284.8" r="3.8"/>
<circle cx="314.30" cy="252.5" r="3.8"/>
<circle cx="314.30" cy="284.8" r="3.8"/>
<circle cx="323.10" cy="252.5" r="3.8"/>
<circle cx="323.10" cy="284.8" r="3.8"/>
<circle cx="331.91" cy="252.5" r="3.8"/>
<circle cx="331.91" cy="284.8" r="3.8"/>
<circle cx="340.72" cy="252.5" r="3.8"/>
<circle cx="340.72" cy="284.8" r="3.8"/>
<circle cx="349.52" cy="252.5" r="3.8"/>
<circle cx="349.52" cy="284.8" r="3.8"/>
<circle cx="358.33" cy="252.5" r="3.8"/>
<circle cx="358.33" cy="284.8" r="3.8"/>
<circle cx="367.13" cy="252.5" r="3.8"/>
<circle cx="367.13" cy="284.8" r="3.8"/>
<circle cx="375.94" cy="252.5" r="3.8"/>
<circle cx="375.94" cy="284.8" r="3.8"/>
<circle cx="384.75" cy="252.5" r="3.8"/>
<circle cx="384.75" cy="284.8" r="3.8"/>
<circle cx="393.55" cy="252.5" r="3.8"/>
<circle cx="393.55" cy="284.8" r="3.8"/>
<circle cx="402.36" cy="252.5" r="3.8"/>
<circle cx="402.36" cy="284.8" r="3.8"/>
<circle cx="411.16" cy="252.5" r="3.8"/>
<circle cx="411.16" cy="284.8" r="3.8"/>
<circle cx="419.97" cy="252.5" r="3.8"/>
<circle cx="419.97" cy="284.8" r="3.8"/>
<circle cx="428.78" cy="252.5" r="3.8"/>
<circle cx="428.78" cy="284.8" r="3.8"/>
<circle cx="437.58" cy="252.5" r="3.8"/>
<circle cx="437.58" cy="284.8" r="3.8"/>
<circle cx="446.39" cy="252.5" r="3.8"/>
<circle cx="446.39" cy="284.8" r="3.8"/>
<circle cx="455.19" cy="252.5" r="3.8"/>
<circle cx="455.19" cy="284.8" r="3.8"/>
<circle cx="464.00" cy="252.5" r="3.8"/>
<circle cx="464.00" cy="284.8" r="3.8"/>
<circle cx="472.81" cy="252.5" r="3.8"/>
<circle cx="472.81" cy="284.8" r="3.8"/>
<circle cx="481.61" cy="252.5" r="3.8"/>
<circle cx="481.61" cy="284.8" r="3.8"/>
<circle cx="490.42" cy="252.5" r="3.8"/>
<circle cx="490.42" cy="284.8" r="3.8"/>
<circle cx="499.22" cy="252.5" r="3.8"/>
<circle cx="499.22" cy="284.8" r="3.8"/>
<circle cx="508.03" cy="252.5" r="3.8"/>
<circle cx="508.03" cy="284.8" r="3.8"/>
<circle cx="516.84" cy="252.5" r="3.8"/>
<circle cx="516.84" cy="284.8" r="3.8"/>
<circle cx="525.64" cy="252.5" r="3.8"/>
<circle cx="525.64" cy="284.8" r="3.8"/>
<circle cx="534.45" cy="252.5" r="3.8"/>
<circle cx="534.45" cy="284.8" r="3.8"/>
<circle cx="543.25" cy="252.5" r="3.8"/>
<circle cx="543.25" cy="284.8" r="3.8"/>
<circle cx="552.06" cy="252.5" r="3.8"/>
<circle cx="552.06" cy="284.8" r="3.8"/>
<circle cx="560.87" cy="252.5" r="3.8"/>
<circle cx="560.87" cy="284.8" r="3.8"/>
<circle cx="569.67" cy="252.5" r="3.8"/>
<circle cx="569.67" cy="284.8" r="3.8"/>
<circle cx="578.48" cy="252.5" r="3.8"/>
<circle cx="578.48" cy="284.8" r="3.8"/>
<circle cx="587.28" cy="252.5" r="3.8"/>
<circle cx="587.28" cy="284.8" r="3.8"/>
<circle cx="596.09" cy="252.5" r="3.8"/>
<circle cx="596.09" cy="284.8" r="3.8"/>
<circle cx="604.90" cy="252.5" r="3.8"/>
<circle cx="604.90" cy="284.8" r="3.8"/>
<circle cx="613.70" cy="252.5" r="3.8"/>
<circle cx="613.70" cy="284.8" r="3.8"/>
<circle cx="622.51" cy="252.5" r="3.8"/>
<circle cx="622.51" cy="284.8" r="3.8"/>
<circle cx="631.31" cy="252.5" r="3.8"/>
<circle cx="631.31" cy="284.8" r="3.8"/>
<circle cx="640.12" cy="252.5" r="3.8"/>
<circle cx="640.12" cy="284.8" r="3.8"/>
<circle cx="648.93" cy="252.5" r="3.8"/>
<circle cx="648.93" cy="284.8" r="3.8"/>
<circle cx="657.73" cy="252.5" r="3.8"/>
<circle cx="657.73" cy="284.8" r="3.8"/>
<circle cx="666.54" cy="252.5" r="3.8"/>
<circle cx="666.54" cy="284.8" r="3.8"/>
<circle cx="675.34" cy="252.5" r="3.8"/>
<circle cx="675.34" cy="284.8" r="3.8"/>
<circle cx="684.15" cy="252.5" r="3.8"/>
<circle cx="684.15" cy="284.8" r="3.8"/>
<circle cx="692.96" cy="252.5" r="3.8"/>
<circle cx="692.96" cy="284.8" r="3.8"/>
<circle cx="701.76" cy="252.5" r="3.8"/>
<circle cx="701.76" cy="284.8" r="3.8"/>
<circle cx="710.57" cy="252.5" r="3.8"/>
<circle cx="710.57" cy="284.8" r="3.8"/>
<circle cx="719.37" cy="252.5" r="3.8"/>
<circle cx="719.37" cy="284.8" r="3.8"/>
<circle cx="728.18" cy="252.5" r="3.8"/>
<circle cx="728.18" cy="284.8" r="3.8"/>
<circle cx="736.99" cy="252.5" r="3.8"/>
<circle cx="736.99" cy="284.8" r="3.8"/>
<circle cx="745.79" cy="252.5" r="3.8"/>
<circle cx="745.79" cy="284.8" r="3.8"/>
<circle cx="754.60" cy="252.5" r="3.8"/>
<circle cx="754.60" cy="284.8" r="3.8"/>
<circle cx="763.40" cy="252.5" r="3.8"/>
<circle cx="763.40" cy="284.8" r="3.8"/>
<circle cx="772.21" cy="252.5" r="3.8"/>
<circle cx="772.21" cy="284.8" r="3.8"/>
</g>
</g>

<!-- RECEPTOR 1 -->
<g id="r1">
<path d="M172 209.6 Q185.3 214.6 198.6 209.6 V311 C198.6 320 192.5 324.4 185.3 324.4 C178 324.4 172 320 172 311 Z" fill="url(#grnstalk)" stroke="#3c7f5a" stroke-width="0.9"/>
<use href="#capg"/>
<circle cx="184.5" cy="176.5" r="30.2" fill="url(#yel)" stroke="#8b8070" stroke-width="1"/>
</g>

<!-- RECEPTOR 2 -->
<g id="r2">
<use href="#betag"/>
<use href="#gammag"/>
<circle cx="402.5" cy="175.7" r="30" fill="url(#yel)" stroke="#8b8070" stroke-width="1"/>
<ellipse cx="356.4" cy="328.5" rx="27.6" ry="14.9" fill="url(#jak)" stroke="#667a88" stroke-width="1.2"/>
<ellipse cx="451.5" cy="328.5" rx="27.3" ry="14.9" fill="url(#jak)" stroke="#667a88" stroke-width="1.2"/>
</g>

<!-- RECEPTOR 3 -->
<g id="r3">
<rect x="653.6" y="212" width="5" height="112.2" fill="#43b072" stroke="#2f7f52" stroke-width="0.6"/>
<use href="#betag" transform="translate(252.2,0)"/>
<use href="#gammag" transform="translate(252.2,0)"/>
<use href="#capg" transform="translate(470.6,0)"/>
<circle cx="654.7" cy="175.9" r="30" fill="url(#yel)" stroke="#8b8070" stroke-width="1"/>
<ellipse cx="608.6" cy="328.6" rx="27.4" ry="15.2" fill="url(#jak)" stroke="#667a88" stroke-width="1.2"/>
<ellipse cx="703.5" cy="328.6" rx="27.4" ry="15.2" fill="url(#jak)" stroke="#667a88" stroke-width="1.2"/>
</g>

<!-- small triangle -->
<path d="M775.8 372.5 L779.1 369.1 V376 Z" fill="#2fa3dc"/>

<!-- TEXT -->
<g id="labels" font-family="Liberation Sans, sans-serif" fill="#231f20">
<text x="19.01" y="63.6" font-size="20.5" textLength="11.93" lengthAdjust="spacingAndGlyphs" font-weight="bold" fill="#000">a</text>
<text x="141.76" y="58.9" font-size="18" textLength="94.63" lengthAdjust="spacingAndGlyphs" >Low affinity</text>
<text x="324.13" y="106.3" font-size="18" textLength="168.14" lengthAdjust="spacingAndGlyphs" >Intermediate affinity</text>
<text x="608.90" y="58.9" font-size="18" textLength="100.70" lengthAdjust="spacingAndGlyphs" >High affinity</text>
<text x="162.41" y="107.3" font-size="19.2" textLength="54.95" lengthAdjust="spacingAndGlyphs" >IL-2Rα</text>
<text x="627.92" y="107.6" font-size="19.2" textLength="54.77" lengthAdjust="spacingAndGlyphs" >IL-2Rα</text>
<text x="302.07" y="152.6" font-size="19.2" textLength="53.91" lengthAdjust="spacingAndGlyphs" >IL-2Rβ</text>
<text x="448.55" y="152.6" font-size="19.2" textLength="51.18" lengthAdjust="spacingAndGlyphs" >IL-2Rγ</text>
<text x="547.47" y="152.9" font-size="19.2" textLength="53.12" lengthAdjust="spacingAndGlyphs" >IL-2Rβ</text>
<text x="706.03" y="152.9" font-size="19.2" textLength="51.33" lengthAdjust="spacingAndGlyphs" >IL-2Rγ</text>
<text x="25.00" y="240.0" font-size="18" textLength="96.96" lengthAdjust="spacingAndGlyphs" >Cell surface</text>
<text x="169.10" y="181.5" font-size="19" textLength="28.93" lengthAdjust="spacingAndGlyphs" stroke="#231f20" stroke-width="0.45">IL-2</text>
<text x="387.73" y="181.5" font-size="19" textLength="28.42" lengthAdjust="spacingAndGlyphs" stroke="#231f20" stroke-width="0.45">IL-2</text>
<text x="639.67" y="181.7" font-size="19" textLength="28.84" lengthAdjust="spacingAndGlyphs" stroke="#231f20" stroke-width="0.45">IL-2</text>
<text x="337.65" y="333.6" font-size="18" textLength="38.79" lengthAdjust="spacingAndGlyphs" >JAK1</text>
<text x="431.71" y="333.6" font-size="18" textLength="39.84" lengthAdjust="spacingAndGlyphs" >JAK3</text>
<text x="590.53" y="333.7" font-size="18" textLength="36.88" lengthAdjust="spacingAndGlyphs" >JAK1</text>
<text x="684.58" y="333.7" font-size="18" textLength="38.06" lengthAdjust="spacingAndGlyphs" >JAK3</text>
<text x="148.88" y="79.5" font-size="18" textLength="11.20" lengthAdjust="spacingAndGlyphs" font-style="italic">K</text>
<text x="160.45" y="84.8" font-size="10" textLength="6.48" lengthAdjust="spacingAndGlyphs" fill="#555">d</text>
<text x="165.96" y="79.5" font-size="18" textLength="11.47" lengthAdjust="spacingAndGlyphs" >~</text>
<text x="177.27" y="79.5" font-size="18" textLength="19.14" lengthAdjust="spacingAndGlyphs" >10</text>
<text x="196.80" y="73.7" font-size="9.8" textLength="10.39" lengthAdjust="spacingAndGlyphs" stroke="#231f20" stroke-width="0.3">−8</text>
<text x="210.42" y="79.5" font-size="18" textLength="16.35" lengthAdjust="spacingAndGlyphs" >M</text>
<text x="367.89" y="126.6" font-size="18" textLength="11.50" lengthAdjust="spacingAndGlyphs" font-style="italic">K</text>
<text x="379.65" y="132.3" font-size="10" textLength="6.26" lengthAdjust="spacingAndGlyphs" fill="#555">d</text>
<text x="385.24" y="126.6" font-size="18" textLength="11.18" lengthAdjust="spacingAndGlyphs" >~</text>
<text x="396.92" y="126.6" font-size="18" textLength="18.44" lengthAdjust="spacingAndGlyphs" >10</text>
<text x="415.81" y="120.7" font-size="9.8" textLength="11.02" lengthAdjust="spacingAndGlyphs" stroke="#231f20" stroke-width="0.3">−9</text>
<text x="429.51" y="126.6" font-size="18" textLength="16.20" lengthAdjust="spacingAndGlyphs" >M</text>
<text x="615.77" y="79.4" font-size="18" textLength="11.08" lengthAdjust="spacingAndGlyphs" font-style="italic">K</text>
<text x="627.08" y="84.7" font-size="10" textLength="7.03" lengthAdjust="spacingAndGlyphs" fill="#555">d</text>
<text x="633.24" y="79.4" font-size="18" textLength="11.18" lengthAdjust="spacingAndGlyphs" >~</text>
<text x="644.48" y="79.4" font-size="18" textLength="18.88" lengthAdjust="spacingAndGlyphs" >10</text>
<text x="663.80" y="74.0" font-size="9.8" textLength="16.08" lengthAdjust="spacingAndGlyphs" stroke="#231f20" stroke-width="0.3">−11</text>
<text x="683.01" y="79.4" font-size="18" textLength="16.83" lengthAdjust="spacingAndGlyphs" >M</text>
<text x="250.35" y="476.0" font-size="30" textLength="287.78" lengthAdjust="spacingAndGlyphs" font-family="Liberation Serif, serif" fill="#a8a8a8" stroke="#a8a8a8" stroke-width="0.5">IL-2 Signaling Pathway</text>
</g>
<circle cx="540.8" cy="465.3" r="0.7" fill="#4aa8dc"/>
</svg>
</body></html>
